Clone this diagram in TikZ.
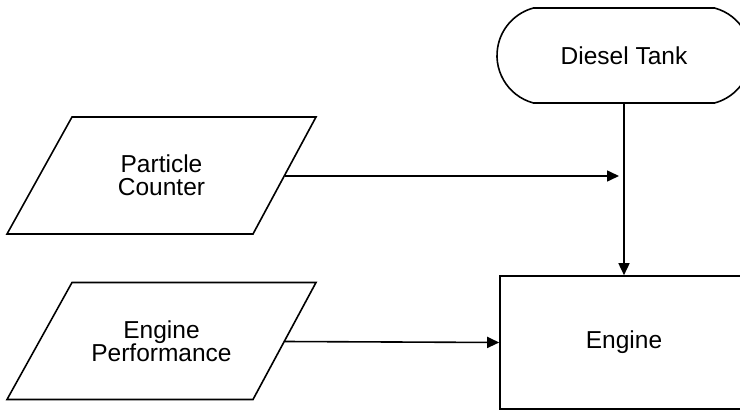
\documentclass[tikz,border=0pt]{standalone}
\usepackage{fontspec}
\setmainfont{Liberation Sans}
\usetikzlibrary{shapes.misc,arrows.meta,calc}
\tikzset{
  lw/.style={line width=1.6pt},
  txt/.style={inner sep=0pt, align=center, font=\fontsize{24.5}{23}\selectfont},
  term/.style={txt, draw=black, lw, rounded rectangle, rounded rectangle arc length=150,
    minimum width=254, minimum height=95},
  proc/.style={txt, draw=black, lw, rectangle, minimum width=248, minimum height=133},
  conn/.style={lw, -{Triangle[length=12pt,width=11pt]}},
}
\newcommand{\ioshape}[1]{%
  \draw[lw] ($(#1)+(-154.5,58.5)$) -- ($(#1)+(91.5,58.5)$) -- ($(#1)+(154.5,-58.5)$)
    -- ($(#1)+(-89.5,-58.5)$) -- cycle;
  \coordinate (#1R) at ($(#1)+(123,0.5)$);}
\begin{document}
\begin{tikzpicture}[x=1pt,y=-1pt]
\useasboundingbox (0,0) rectangle (740,412);
\clip (0,0) rectangle (740,412);
\node[term] (tank) at (624,55.5) {Diesel Tank};
\node[txt] (pc) at (161.5,175.5) {Particle\\Counter};
\node[txt] (ep) at (161.5,341) {Engine\\Performance};
\ioshape{pc}
\ioshape{ep}
\node[proc] (eng) at (624,342.5) {Engine};
\coordinate (pj) at (619,176);
\draw[conn] (tank.south) -- (eng.north);
\draw[conn] (pcR) -- (pj);
\draw[conn] (epR) -- (eng.west);
\end{tikzpicture}
\end{document}
